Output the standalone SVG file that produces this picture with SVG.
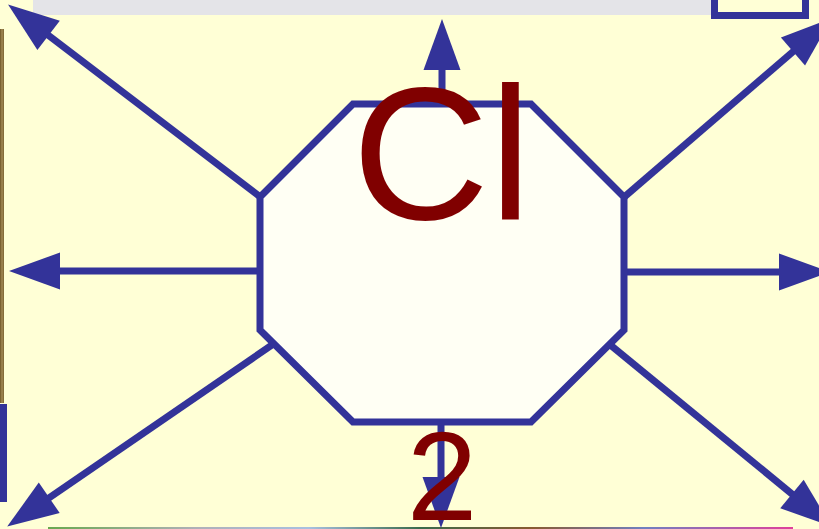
<svg xmlns="http://www.w3.org/2000/svg" width="819" height="529" viewBox="0 0 819 529">
<defs>
<style>
.shaft{stroke:#333399;stroke-width:7;fill:none}
.lbl{font-family:"Liberation Sans",Arial,sans-serif;fill:#800000}
</style>
<marker id="ah" markerUnits="userSpaceOnUse" orient="auto" overflow="visible" refX="2" refY="0" markerWidth="1" markerHeight="1">
<path d="M0,-18.5 L51,0 L0,18.5 Z" fill="#333399"/>
</marker>
<linearGradient id="btm" x1="0" y1="0" x2="1" y2="0">
<stop offset="0" stop-color="#6aa84f"/>
<stop offset="0.2" stop-color="#b0b0b8"/>
<stop offset="0.35" stop-color="#a8c0e0"/>
<stop offset="0.5" stop-color="#3a6a4a"/>
<stop offset="0.65" stop-color="#8a5a30"/>
<stop offset="0.8" stop-color="#7080c0"/>
<stop offset="1" stop-color="#e0409a"/>
</linearGradient>
<linearGradient id="brn" x1="0" y1="0" x2="1" y2="0">
<stop offset="0" stop-color="#6e5526"/>
<stop offset="0.5" stop-color="#a38a55"/>
<stop offset="1" stop-color="#7a6230"/>
</linearGradient>
</defs>
<rect x="0" y="0" width="819" height="529" fill="#FFFFD6"/>
<g id="frame">
<rect x="33" y="0" width="680" height="15" fill="#E4E4E8"/>
<rect x="714.5" y="-5" width="91" height="20.5" fill="#FFFFD6" stroke="#333399" stroke-width="7"/>
<rect x="0" y="29" width="4" height="374" fill="url(#brn)"/>
<rect x="0" y="404" width="7" height="98" fill="#333399"/>
<rect x="48" y="527" width="745" height="2" fill="url(#btm)"/>
</g>
<g id="connectors">
<line class="shaft" x1="442" y1="263" x2="442" y2="68" marker-end="url(#ah)"/>
<line class="shaft" x1="441" y1="263" x2="441" y2="479" marker-end="url(#ah)"/>
<line class="shaft" x1="442" y1="271" x2="58" y2="271" marker-end="url(#ah)"/>
<line class="shaft" x1="442" y1="272" x2="781" y2="272" marker-end="url(#ah)"/>
<line class="shaft" x1="284" y1="215" x2="47" y2="34.2" marker-end="url(#ah)"/>
<line class="shaft" x1="601" y1="217" x2="794.5" y2="50.3" marker-end="url(#ah)"/>
<line class="shaft" x1="288.5" y1="333.7" x2="47.6" y2="498.9" marker-end="url(#ah)"/>
<line class="shaft" x1="594.5" y1="332" x2="793.5" y2="495.2" marker-end="url(#ah)"/>
</g>
<g id="node-cl">
<polygon points="353,104 531,104 624,197 624,330 531,422 353,422 260,330 260,197" fill="#FFFFF4" stroke="#333399" stroke-width="7" stroke-linejoin="miter"/>
<text class="lbl" x="352" y="219" font-size="190">Cl</text>
<text class="lbl" x="442" y="520" font-size="127" text-anchor="middle">2</text>
</g>
</svg>
